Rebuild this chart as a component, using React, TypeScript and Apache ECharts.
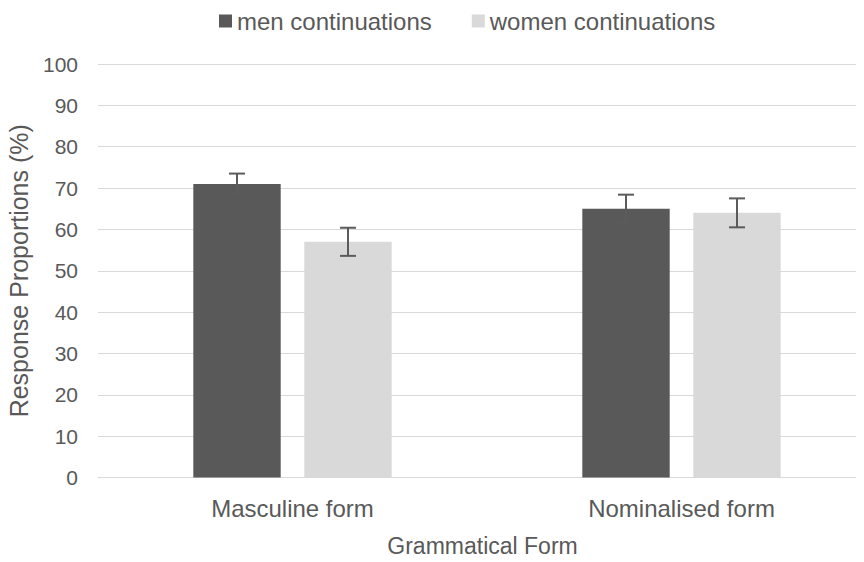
import React, { useEffect, useRef } from "react";
import * as echarts from "echarts";

const categories = ["Masculine form", "Nominalised form"];
const menValues = [71, 65];
const womenValues = [57, 64];
const menErrors = [2.5, 3.4];
const womenErrors = [3.4, 3.5];
const seriesNames = ["men continuations", "women continuations"];
const yTicks = { min: 0, max: 100, interval: 10 };

const FONT = "Liberation Sans";
const TEXT = "#595959";
const MEN = "#595959";
const WOMEN = "#d9d9d9";
const GRID = "#d9d9d9";
const CAT_GAP = 0.49;
const BAR_GAP = 0.27;

export default function App() {
  const ref = useRef<HTMLDivElement>(null);
  useEffect(() => {
    if (!ref.current) return;
    const chart = echarts.init(ref.current, null, { renderer: "svg" });

    const errorData = (vals: number[], errs: number[], idx: number) =>
      vals.map((v, i) => [i, v - errs[i], v + errs[i], idx]);

    const renderError = (params: any, api: any) => {
      const cat = api.value(0);
      const lo = api.value(1);
      const hi = api.value(2);
      const idx = api.value(3);
      const band = api.size([1, 0])[0];
      const bw = (band * (1 - CAT_GAP)) / (2 + BAR_GAP);
      const off = ((bw * (1 + BAR_GAP)) / 2) * (idx === 0 ? -1 : 1);
      const pLo = api.coord([cat, lo]);
      const pHi = api.coord([cat, hi]);
      const x = pLo[0] + off;
      const cap = 8;
      const style = { stroke: "#5b5b5b", lineWidth: 2 };
      return {
        type: "group",
        children: [
          { type: "line", shape: { x1: x, y1: pLo[1], x2: x, y2: pHi[1] }, style },
          { type: "line", shape: { x1: x - cap, y1: pHi[1], x2: x + cap, y2: pHi[1] }, style },
          { type: "line", shape: { x1: x - cap, y1: pLo[1], x2: x + cap, y2: pLo[1] }, style },
        ],
      };
    };

    chart.setOption({
      animation: false,
      textStyle: { fontFamily: FONT, color: TEXT },
      legend: {
        top: 4,
        left: 214,
        itemWidth: 13,
        itemHeight: 13,
        itemGap: 40,
        icon: "rect",
        textStyle: { fontFamily: FONT, fontSize: 24, color: TEXT },
        data: seriesNames,
      },
      grid: {
        left: 98,
        width: 778,
        top: 64,
        bottom: 84.5,
        containLabel: false,
        outerBoundsMode: "none",
      },
      xAxis: {
        type: "category",
        data: categories,
        axisLine: { show: true, lineStyle: { color: GRID, width: 1 } },
        axisTick: { show: false },
        axisLabel: { margin: 19, fontSize: 24, color: TEXT, fontFamily: FONT },
        name: "Grammatical Form",
        nameLocation: "middle",
        nameGap: 57,
        nameTextStyle: { fontSize: 23, color: TEXT, fontFamily: FONT, padding: [0, 9, 0, 0] },
      },
      yAxis: {
        type: "value",
        min: yTicks.min,
        max: yTicks.max,
        interval: yTicks.interval,
        axisLine: { show: false },
        axisTick: { show: false },
        splitLine: { lineStyle: { color: GRID, width: 1 } },
        axisLabel: { margin: 20, fontSize: 21, color: TEXT, fontFamily: FONT },
        name: "Response Proportions (%)",
        nameLocation: "middle",
        nameGap: 67,
        nameTextStyle: { fontSize: 25, color: TEXT, fontFamily: FONT },
      },
      series: [
        {
          name: seriesNames[0],
          type: "bar",
          data: menValues,
          itemStyle: { color: MEN },
          barCategoryGap: CAT_GAP * 100 + "%",
          barGap: BAR_GAP * 100 + "%",
        },
        {
          name: seriesNames[1],
          type: "bar",
          data: womenValues,
          itemStyle: { color: WOMEN },
          barCategoryGap: CAT_GAP * 100 + "%",
          barGap: BAR_GAP * 100 + "%",
        },
        {
          type: "custom",
          renderItem: renderError,
          data: [...errorData(menValues, menErrors, 0), ...errorData(womenValues, womenErrors, 1)],
          encode: { x: 0, y: [1, 2] },
          z: 10,
          silent: true,
        },
      ],
    });
    return () => chart.dispose();
  }, []);
  return <div ref={ref} style={{ width: 864, height: 562, margin: -8 }} />;
}
